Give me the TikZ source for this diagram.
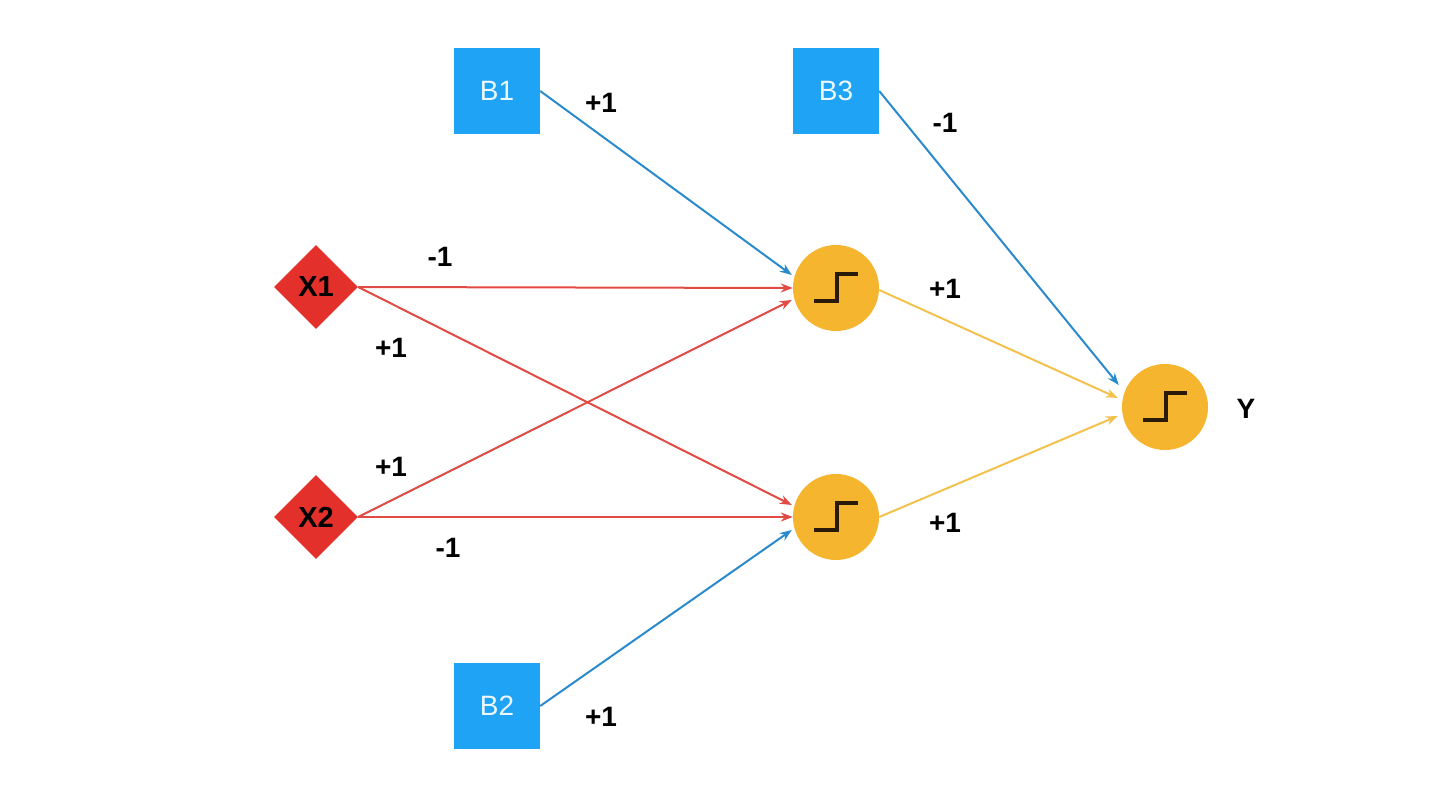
\documentclass[tikz,border=0pt]{standalone}
\usepackage{fontspec}
\setmainfont{Liberation Sans}
\usetikzlibrary{shapes.geometric,arrows.meta}
\definecolor{boxblue}{HTML}{1FA3F5}
\definecolor{edgeblue}{HTML}{2A8ACC}
\definecolor{dred}{HTML}{E4302A}
\definecolor{ered}{HTML}{E24A44}
\definecolor{orng}{HTML}{F5B52E}
\definecolor{eyel}{HTML}{F3C24E}
\definecolor{stepc}{HTML}{2A1A0A}
\tikzset{
  bias/.style={rectangle, fill=boxblue, minimum size=86pt, inner sep=0pt, text=white!92!boxblue, font=\fontsize{28}{30}\selectfont},
  inp/.style={diamond, fill=dred, minimum width=84pt, minimum height=84pt, inner sep=0pt, font=\bfseries\fontsize{29}{30}\selectfont},
  neuron/.style={circle, fill=orng, minimum size=86pt, inner sep=0pt},
  wlabel/.style={font=\bfseries\fontsize{28}{30}\selectfont, inner sep=0pt},
  conn/.style={line width=2pt, -{Stealth[length=12pt,width=9pt]}},
  stepline/.style={line width=3.2pt, stepc},
}
\begin{document}
\begin{tikzpicture}[x=1pt,y=-1pt]
\fill[white] (0,0) rectangle (1440,786);
\useasboundingbox (0,0) rectangle (1440,786);

\node[bias] (B1) at (497,91) {B1};
\node[bias] (B3) at (836,91) {B3};
\node[bias] (B2) at (497,706) {B2};
\node[inp] (X1) at (316,287) {X1};
\node[inp] (X2) at (316,517) {X2};
\node[neuron] (H1) at (836,288) {};
\node[neuron] (H2) at (836,517) {};
\node[neuron] (Y) at (1165,407) {};

\foreach \n in {H1,H2,Y}
  \draw[stepline] ([shift={(-22,13)}]\n.center) -- ([shift={(1,13)}]\n.center) -- ([shift={(1,-14)}]\n.center) -- ([shift={(22,-14)}]\n.center);

\draw[conn, edgeblue] (B1.east) -- ([shift={(-1,-13)}]H1.west);
\draw[conn, ered] (X1.east) -- (H1.west);
\draw[conn, ered] (X2.east) -- ([shift={(-1,12)}]H1.west);
\draw[conn, ered] (X1.east) -- ([shift={(-1,-12)}]H2.west);
\draw[conn, ered] (X2.east) -- (H2.west);
\draw[conn, edgeblue] (B2.east) -- ([shift={(-1,13)}]H2.west);
\draw[conn, edgeblue] (B3.east) -- ([shift={(-3,-22)}]Y.west);
\draw[conn, eyel] ([shift={(0,2)}]H1.east) -- ([shift={(-4,-9)}]Y.west);
\draw[conn, eyel] (H2.east) -- ([shift={(-4,9)}]Y.west);

\node[wlabel] (l1) at (601,103) {+1};
\node[wlabel] (l2) at (945,123) {-1};
\node[wlabel] (l3) at (440,257) {-1};
\node[wlabel] (l4) at (391,348) {+1};
\node[wlabel] (l5) at (391,467) {+1};
\node[wlabel] (l6) at (448,548) {-1};
\node[wlabel] (l7) at (945,289) {+1};
\node[wlabel] (l8) at (945,523) {+1};
\node[wlabel] (l9) at (601,717) {+1};
\node[wlabel] (ly) at (1246,409) {Y};
\end{tikzpicture}
\end{document}
